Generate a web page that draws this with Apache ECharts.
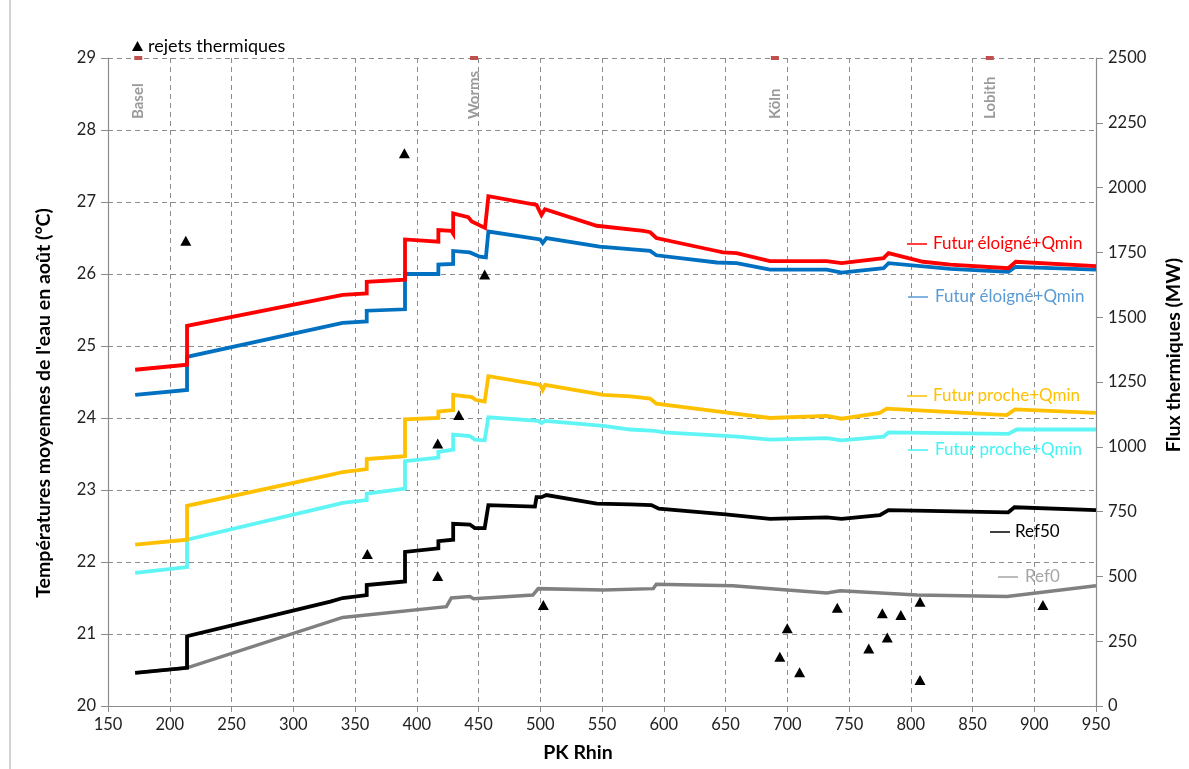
<!DOCTYPE html>
<html><head><meta charset="utf-8">
<script src="https://cdn.jsdelivr.net/npm/echarts@6/dist/echarts.min.js"></script>
<style>html,body{margin:0;padding:0;background:#fff}#c{width:1189px;height:769px}</style>
</head><body><div id="c"></div>
<script>
// ---- data (PK Rhin, temperature °C) ----
const futurEloigneA = [[172,24.67],[214,24.74],[214,25.28],[340,25.71],[359.5,25.73],[359.5,25.89],[390.5,25.92],[390.5,26.48],[417.5,26.45],[417.5,26.61],[428,26.6],[429.5,26.56],[429.5,26.84],[441.7,26.79],[444.5,26.73],[455.3,26.64],[458,27.08],[497,26.96],[501,26.82],[503.8,26.9],[545.7,26.67],[583.5,26.6],[589,26.58],[594,26.5],[640,26.33],[648,26.3],[659,26.29],[686,26.18],[732,26.18],[744,26.15],[778,26.22],[782,26.29],[810,26.17],[832,26.13],[879,26.08],[885,26.17],[950,26.11]];
const futurEloigneB = [[172,24.32],[214,24.39],[214,24.85],[340,25.32],[359.5,25.34],[359.5,25.49],[390.5,25.51],[390.5,26.0],[417.5,26.0],[417.5,26.13],[429.5,26.14],[429.5,26.32],[443,26.3],[451,26.24],[456,26.23],[458,26.59],[500,26.48],[502,26.43],[505,26.5],[548,26.38],[589,26.32],[594,26.26],[643,26.16],[659,26.15],[686,26.06],[732,26.06],[744,26.02],[778,26.08],[782,26.15],[832,26.07],[879,26.03],[885,26.1],[950,26.06]];
const futurProcheA = [[172,22.24],[214,22.31],[214,22.78],[330,23.21],[340,23.25],[359.5,23.29],[359.5,23.43],[390.5,23.47],[390.5,23.98],[417.5,24.0],[417.5,24.09],[429.5,24.11],[429.5,24.32],[444.5,24.29],[448,24.25],[455,24.23],[458,24.58],[500,24.46],[502,24.39],[504,24.46],[551,24.32],[573,24.3],[589,24.27],[594,24.2],[640,24.1],[686,24.0],[732,24.03],[744,23.99],[775,24.07],[780.5,24.13],[877.7,24.04],[884.4,24.12],[950,24.07]];
const futurProcheB = [[172,21.85],[214,21.93],[214,22.31],[330,22.78],[340,22.82],[359.5,22.86],[359.5,22.95],[390.5,23.02],[390.5,23.4],[417.5,23.45],[417.5,23.53],[429.5,23.56],[429.5,23.77],[443,23.75],[447,23.7],[455,23.69],[458,24.01],[498.4,23.96],[501,23.93],[504,23.96],[551,23.89],[573,23.84],[593,23.82],[600,23.8],[660,23.74],[686,23.7],[732,23.72],[744,23.69],[778,23.74],[782,23.8],[879,23.78],[885.8,23.84],[950,23.84]];
const ref50 = [[172,20.46],[214,20.53],[214,20.97],[330,21.45],[340,21.5],[359.5,21.54],[359.5,21.68],[390.5,21.73],[390.5,22.14],[417.5,22.19],[417.5,22.29],[429.5,22.31],[429.5,22.53],[443,22.52],[447,22.47],[455,22.47],[458,22.79],[495.7,22.77],[497,22.9],[501,22.9],[505,22.93],[545.7,22.81],[572.7,22.8],[590,22.79],[596,22.74],[650,22.66],[686,22.6],[732,22.62],[744,22.6],[775,22.65],[782,22.72],[879,22.69],[884,22.76],[950,22.72]];
const ref0 = [[172,20.46],[214,20.53],[340,21.23],[424,21.38],[428,21.5],[443,21.52],[446,21.49],[494,21.54],[498.4,21.63],[551,21.61],[591.5,21.63],[594,21.69],[656,21.67],[700,21.61],[732,21.57],[743,21.6],[805,21.54],[878,21.52],[950,21.67]];
// thermal discharges (PK, MW)
const rejetsPK = [213,390,455,434,417,360,417,502.5,700,694,710,740.5,766,777,781,792,807.5,807.5,907];
const rejetsMW = [1795,2133,1665,1123,1013,586,502,390,300,190,130,379,222,358,264,351,402,100,390];
// cities
const villes = ['Basel','Worms','Köln','Lobith'];
const villesPK = [174.5,446.4,690,864];
// axes
const xMin = 150, xMax = 950, xStep = 50;
const yMin = 20, yMax = 29, yStep = 1;
const y2Min = 0, y2Max = 2500, y2Step = 250;

const FONT = 'Lato, "Open Sans", sans-serif';
const chart = echarts.init(document.getElementById('c'), null, {renderer:'canvas'});

function lineSeries(name, data, color, width, z){
  return {name, type:'line', data, showSymbol:false, symbol:'none', z,
    lineStyle:{color, width, cap:'butt', join:'miter', opacity:1}, itemStyle:{color}, emphasis:{disabled:true}};
}

const rightLabels = [
  {text:'Futur éloigné+Qmin', color:'#FF0000', line:'#FF0000', x1:907, x2:927, y:244, tx:933},
  {text:'Futur éloigné+Qmin', color:'#5B9BD5', line:'#5B9BD5', x1:908, x2:928, y:297, tx:935},
  {text:'Futur proche+Qmin', color:'#FFC000', line:'#FFC000', x1:907, x2:927, y:396, tx:933},
  {text:'Futur proche+Qmin', color:'#44F2F2', line:'#44F2F2', x1:908, x2:928, y:450, tx:935},
  {text:'Ref50', color:'#000000', line:'#000000', x1:990, x2:1010, y:532, tx:1015},
  {text:'Ref0', color:'#A6A6A6', line:'#A6A6A6', x1:998, x2:1018, y:577, tx:1025}
];
const graphics = [];
rightLabels.forEach(l=>{
  graphics.push({type:'line', shape:{x1:l.x1,y1:l.y,x2:l.x2,y2:l.y}, style:{stroke:l.line, lineWidth:1.5}, z:100});
  graphics.push({type:'text', x:l.tx, y:l.y, style:{text:l.text, fill:l.color, font:'17px '+FONT, textAlign:'left', textVerticalAlign:'middle'}, z:100});
});
graphics.push({type:'text', x:44, y:403, rotation:Math.PI/2, style:{text:"Températures moyennes de l'eau en août (°C)", fill:'#000', font:'bold 19.5px '+FONT, textAlign:'center', textVerticalAlign:'middle'}});
graphics.push({type:'text', x:1174, y:355, rotation:Math.PI/2, style:{text:'Flux thermiques (MW)', fill:'#000', font:'bold 19.5px '+FONT, textAlign:'center', textVerticalAlign:'middle'}});
graphics.push({type:'text', x:578, y:753, style:{text:'PK Rhin', fill:'#000', font:'bold 19.5px '+FONT, textAlign:'center', textVerticalAlign:'middle'}});
graphics.push({type:'line', shape:{x1:10,y1:0,x2:10,y2:769}, style:{stroke:'#A6A6A6', lineWidth:1}});

const option = {
  animation:false,
  backgroundColor:'#fff',
  textStyle:{fontFamily:FONT},
  grid:{left:108, right:93, top:58, bottom:63, containLabel:false},
  legend:{data:[{name:'rejets thermiques', icon:'triangle', itemStyle:{color:'#000', opacity:1}}], left:127, top:32, itemWidth:11, itemHeight:10, itemGap:5,
    textStyle:{fontSize:18, color:'#000', fontFamily:FONT}},
  xAxis:{type:'value', min:xMin, max:xMax, interval:xStep,
    axisLine:{show:true, lineStyle:{color:'#8C8C8C', width:1.2}},
    axisTick:{show:true, length:6, lineStyle:{color:'#8C8C8C'}},
    axisLabel:{color:'#222', fontSize:16.5, margin:10, fontFamily:FONT},
    splitLine:{show:true, lineStyle:{color:'#8C8C8C', type:[5,4], width:1}}},
  yAxis:[
    {type:'value', min:yMin, max:yMax, interval:yStep, position:'left',
      axisLine:{show:true, lineStyle:{color:'#8C8C8C', width:1.2}},
      axisTick:{show:true, length:7, lineStyle:{color:'#8C8C8C'}},
      axisLabel:{color:'#222', fontSize:16.5, margin:12, fontFamily:FONT},
      splitLine:{show:true, lineStyle:{color:'#8C8C8C', type:[5,4], width:1}}},
    {type:'value', min:y2Min, max:y2Max, interval:y2Step, position:'right',
      axisLine:{show:true, lineStyle:{color:'#8C8C8C', width:1.2}},
      axisTick:{show:true, length:7, lineStyle:{color:'#8C8C8C'}},
      axisLabel:{color:'#222', fontSize:16.5, margin:12, fontFamily:FONT, formatter:v=>String(v)},
      splitLine:{show:false}}
  ],
  graphic:graphics,
  series:[
    lineSeries('Ref0', ref0, '#808080', 3.5, 2),
    lineSeries('Ref50', ref50, '#000000', 3.8, 3),
    lineSeries('Futur proche+Qmin (B)', futurProcheB, '#5FF5F5', 3.8, 3),
    lineSeries('Futur proche+Qmin', futurProcheA, '#FFC000', 3.8, 3),
    lineSeries('Futur éloigné+Qmin (B)', futurEloigneB, '#0070C0', 3.8, 3),
    lineSeries('Futur éloigné+Qmin', futurEloigneA, '#FF0000', 3.8, 3),
    {name:'rejets thermiques', type:'scatter', yAxisIndex:1, symbol:'triangle', symbolSize:[11,10],
      itemStyle:{color:'#000', opacity:1}, z:5, emphasis:{disabled:true},
      data:rejetsPK.map((p,i)=>[p, rejetsMW[i]])},
    {name:'villes', type:'scatter', symbol:'rect', symbolSize:[8,4], z:20, clip:false,
      itemStyle:{color:'#C0504D', opacity:1}, emphasis:{disabled:true},
      data:villesPK.map((p,i)=>({value:[p, yMax], name:villes[i]})),
      label:{show:true, formatter:p=>p.name, rotate:90, position:[4,63], align:'left', verticalAlign:'middle',
        color:'#9A9A9A', opacity:1, fontSize:15, fontWeight:'bold', fontFamily:FONT}}
  ]
};
chart.setOption(option);
</script>
</body></html>
